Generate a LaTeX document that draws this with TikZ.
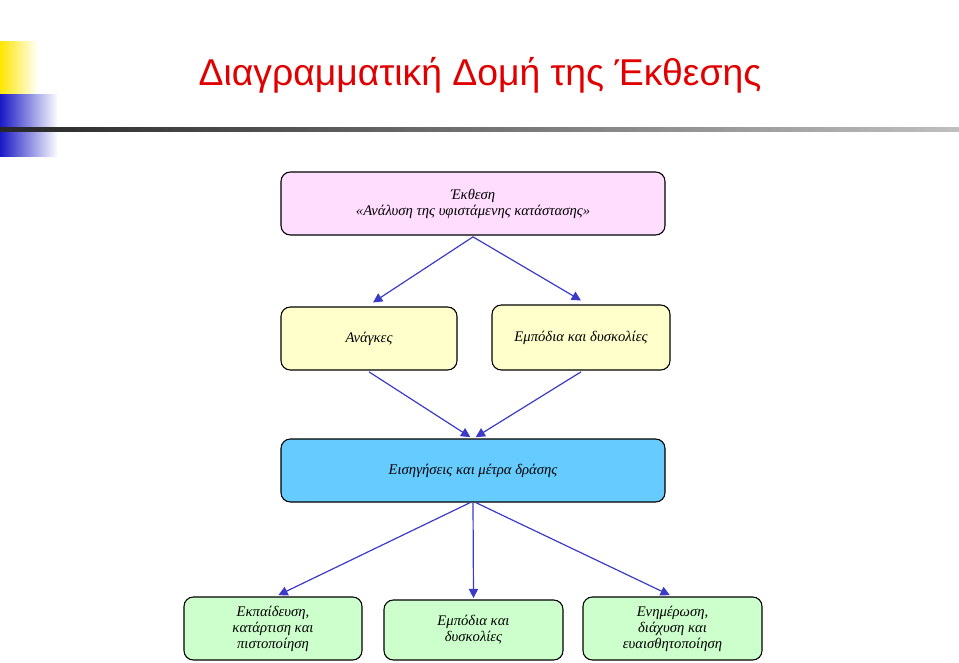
\documentclass[tikz,border=0pt]{standalone}
\usepackage{fontspec}
\setmainfont{Liberation Serif}
\newfontfamily\titlefont{Liberation Sans}
\usetikzlibrary{arrows.meta}
\definecolor{arr}{HTML}{3B3BC8}
\definecolor{pinkf}{HTML}{FFDDFF}
\definecolor{yelf}{HTML}{FFFFCC}
\definecolor{bluef}{HTML}{66CCFF}
\definecolor{greenf}{HTML}{CCFFCC}
\definecolor{ttl}{HTML}{E00000}
\tikzset{
 box/.style={draw=black, line width=0.8pt, rounded corners=7pt, align=center, inner sep=0pt, font=\itshape\fontsize{11}{12}\selectfont},
 conn/.style={draw=arr, line width=0.9pt, -{Triangle[length=7pt,width=7pt]}}
}
\begin{document}
\begin{tikzpicture}[x=0.75pt,y=-0.75pt]
\useasboundingbox (0,0) rectangle (959,663);
\shade[left color=yellow!80!orange, right color=white] (0,42) rectangle (38,95);
\shade[left color=blue!75!black!90, right color=white] (0,95) rectangle (58,157);
\shade[left color=black!85, right color=black!25] (0,128) rectangle (959,132);
\node[font=\titlefont\fontsize{28}{30}\selectfont, text=ttl] (title) at (480,75) {Διαγραμματική Δομή της Έκθεσης};
\node[box, fill=pinkf, minimum width=384*0.75pt, minimum height=63*0.75pt] (top) at (473,203.5) {Έκθεση\\«Ανάλυση της υφιστάμενης κατάστασης»};
\node[box, fill=yelf, minimum width=176*0.75pt, minimum height=63*0.75pt] (need) at (369,338.5) {Ανάγκες};
\node[box, fill=yelf, minimum width=178*0.75pt, minimum height=65*0.75pt] (obst) at (581,337.5) {Εμπόδια και δυσκολίες};
\node[box, fill=bluef, minimum width=384*0.75pt, minimum height=63*0.75pt] (prop) at (473,470.5) {Εισηγήσεις και μέτρα δράσης};
\node[box, fill=greenf, minimum width=178*0.75pt, minimum height=63*0.75pt] (b1) at (273,628.5) {Εκπαίδευση,\\κατάρτιση και\\πιστοποίηση};
\node[box, fill=greenf, minimum width=179*0.75pt, minimum height=60*0.75pt] (b2) at (473.5,630) {Εμπόδια και\\δυσκολίες};
\node[box, fill=greenf, minimum width=179*0.75pt, minimum height=63*0.75pt] (b3) at (672.5,628.5) {Ενημέρωση,\\διάχυση και\\ευαισθητοποίηση};
\draw[conn] ([yshift=-1pt]top.south) -- ([xshift=3pt,yshift=3pt]need.north);
\draw[conn] ([yshift=-1pt]top.south) -- ([yshift=3pt]obst.north);
\draw[conn] ([yshift=-1pt]need.south) -- ([xshift=-2pt,yshift=1pt]prop.north);
\draw[conn] ([yshift=-1pt]obst.south) -- ([xshift=2pt,yshift=1pt]prop.north);
\draw[conn] ([xshift=-2pt]prop.south) -- ([xshift=4pt,yshift=1pt]b1.north);
\draw[conn] (prop.south) -- ([yshift=1pt]b2.north);
\draw[conn] ([xshift=2pt]prop.south) -- ([xshift=-2pt,yshift=1pt]b3.north);
\end{tikzpicture}
\end{document}
